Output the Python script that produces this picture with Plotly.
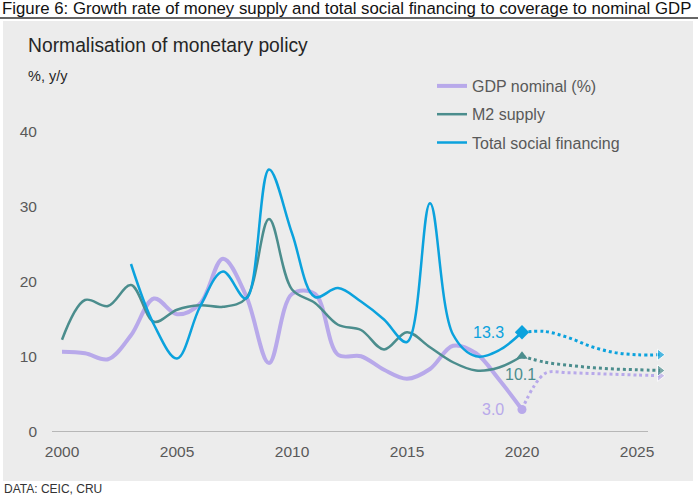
import plotly.graph_objects as go

W, H = 698, 495
L, R, T, B = 52, 26, 60, 63
PW, PH = W - L - R, H - T - B

# history
years = list(range(2000, 2021))
gdp = [10.7, 10.5, 9.7, 12.9, 17.8, 15.7, 17.1, 23.1, 18.2, 9.2, 18.4,
       18.4, 10.3, 10.1, 8.3, 7.1, 8.4, 11.5, 10.5, 7.0, 3.0]
m2 = [12.3, 17.6, 16.8, 19.6, 14.7, 16.3, 16.9, 16.7, 17.8, 28.4, 19.0,
      17.2, 14.3, 13.6, 11.0, 13.3, 11.3, 9.3, 8.2, 8.6, 10.1]
tsf_years = list(range(2003, 2021))
tsf = [22.4, 14.3, 9.8, 16.7, 21.4, 17.8, 35.0, 26.5, 18.0, 19.2, 17.4,
       15.0, 12.0, 30.5, 13.0, 10.1, 10.9, 13.3]

# outlook
proj_years = list(range(2020, 2027))
gdp_proj = [3.0, 7.8, 7.9, 7.8, 7.7, 7.6, 7.5]
m2_proj = [10.1, 9.3, 8.9, 8.6, 8.4, 8.3, 8.2]
tsf_proj = [13.3, 13.4, 12.6, 11.4, 10.6, 10.3, 10.3]

x_ticks = [2000, 2005, 2010, 2015, 2020, 2025]
y_ticks = [0, 10, 20, 30, 40]

LAV = "#b8a9ea"
TEAL = "#4b8d8d"
BLUE = "#0ba2dd"
FONT = "Liberation Sans, Arial, sans-serif"

X0 = 1999.565
X1 = X0 + PW / 23.0


def px(x):
    return (x - L) / PW


def py(y):
    return (H - B - y) / PH


series = [
    ("GDP nominal (%)", years, gdp, gdp_proj, LAV, 4, "circle", 9, "middle left"),
    ("M2 supply", years, m2, m2_proj, TEAL, 2.5, "triangle-up", 10, "below"),
    ("Total social financing", tsf_years, tsf, tsf_proj, BLUE, 2.5, "diamond", 11, "middle left"),
]

fig = go.Figure()
annotations = []
for i, (name, xs, ys, proj, color, lw, sym, msize, pos) in enumerate(series):
    fig.add_trace(go.Scatter(
        x=proj_years, y=proj, mode="lines+markers",
        line=dict(color=color, width=3, dash="dot", shape="spline"),
        marker=dict(symbol="triangle-right", color=color,
                    size=[0] * (len(proj) - 1) + [10]),
        showlegend=False, hoverinfo="skip",
    ))
    fig.add_trace(go.Scatter(
        x=xs, y=ys, mode="lines", name=name, legendgroup=name,
        line=dict(color=color, width=lw, shape="spline"),
    ))
    fig.add_trace(go.Scatter(
        x=[xs[-1]], y=[ys[-1]], mode="markers",
        marker=dict(symbol=sym, color=color, size=msize),
        showlegend=False, hoverinfo="skip",
    ))
    if pos == "below":
        annotations.append(dict(x=xs[-1], y=ys[-1], text=f"{ys[-1]:.1f}",
                                xref="x", yref="y", showarrow=False,
                                xanchor="center", yanchor="middle",
                                xshift=-2, yshift=-18,
                                font=dict(size=16, color=color, family=FONT)))
    else:
        annotations.append(dict(x=xs[-1], y=ys[-1], text=f"{ys[-1]:.1f}",
                                xref="x", yref="y", showarrow=False,
                                xanchor="right", yanchor="middle", xshift=-16,
                                font=dict(size=16, color=color, family=FONT)))

annotations += [
    dict(x=px(0), y=py(9), xref="paper", yref="paper", showarrow=False,
         xanchor="left", yanchor="middle",
         text="Figure 6: Growth rate of money supply and total social financing to coverage to nominal GDP",
         font=dict(size=16.8, color="#111111", family=FONT)),
    dict(x=px(26), y=py(45), xref="paper", yref="paper", showarrow=False,
         xanchor="left", yanchor="middle", text="Normalisation of monetary policy",
         font=dict(size=19.3, color="#262626", family=FONT)),
    dict(x=px(26), y=py(76), xref="paper", yref="paper", showarrow=False,
         xanchor="left", yanchor="middle", text="%, y/y",
         font=dict(size=14.5, color="#262626", family=FONT)),
    dict(x=px(2), y=py(489), xref="paper", yref="paper", showarrow=False,
         xanchor="left", yanchor="middle", text="DATA: CEIC, CRU",
         font=dict(size=12, color="#333333", family=FONT)),
]

shapes = [
    dict(type="rect", xref="paper", yref="paper", x0=px(3), x1=px(693),
         y0=py(481), y1=py(21), fillcolor="#ececec", line_width=0, layer="below"),
    dict(type="line", xref="paper", yref="paper", x0=px(0), x1=px(698),
         y0=py(18), y1=py(18), line=dict(color="#333333", width=1.5)),
    dict(type="line", xref="paper", yref="y", x0=0, x1=px(648), y0=0, y1=0,
         line=dict(color="#a6a6a6", width=1.5), layer="below"),
]

fig.update_layout(
    width=W, height=H,
    margin=dict(l=L, r=R, t=T, b=B),
    paper_bgcolor="white",
    plot_bgcolor="rgba(0,0,0,0)",
    font=dict(family=FONT, color="#595959"),
    showlegend=True,
    legend=dict(x=px(432), y=py(69), xanchor="left", yanchor="top",
                bgcolor="rgba(0,0,0,0)", tracegroupgap=4.5,
                font=dict(size=16, color="#595959", family=FONT)),
    xaxis=dict(range=[X0, X1], tickvals=x_ticks, showgrid=False, zeroline=False,
               showline=False, ticklabelstandoff=8,
               tickfont=dict(size=15.5, color="#595959")),
    yaxis=dict(range=[0, PH / 7.5], tickvals=y_ticks, showgrid=False, zeroline=False,
               showline=False, ticklabelstandoff=14,
               tickfont=dict(size=15.5, color="#595959")),
    annotations=annotations,
    shapes=shapes,
)

# the page is photographed from its top-left corner, so drop the body margin
fig.write_html("out.html", config={"displayModeBar": False},
               post_script="document.body.style.margin = '0';")
